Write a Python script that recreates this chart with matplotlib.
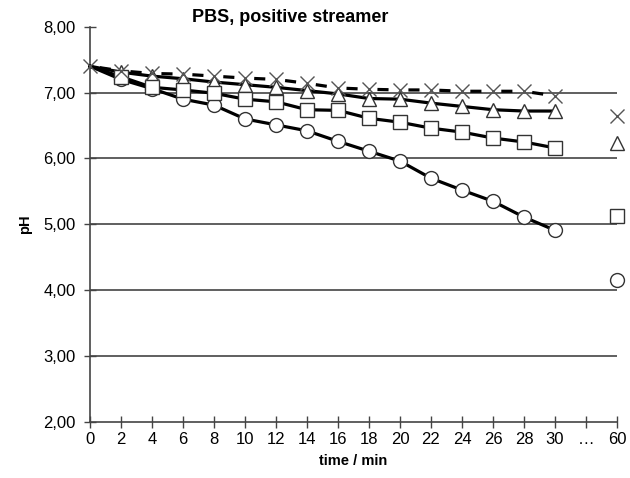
import numpy as np
import matplotlib
matplotlib.use('Agg')
import matplotlib.pyplot as plt

plt.rcParams['font.family'] = ['Liberation Sans', 'DejaVu Sans']
plt.rcParams['lines.scale_dashes'] = False

# categories on the x axis (index 16 is the "..." gap)
x_labels = ['0', '2', '4', '6', '8', '10', '12', '14', '16', '18', '20',
            '22', '24', '26', '28', '30', '\u2026', '60']
times = [0, 2, 4, 6, 8, 10, 12, 14, 16, 18, 20, 22, 24, 26, 28, 30]

ph_cross = [7.40, 7.33, 7.29, 7.28, 7.25, 7.22, 7.20, 7.14, 7.07, 7.05,
            7.04, 7.04, 7.02, 7.02, 7.02, 6.95]
ph_tri = [7.40, 7.31, 7.25, 7.21, 7.16, 7.12, 7.08, 7.03, 6.98, 6.91,
          6.90, 6.84, 6.79, 6.74, 6.72, 6.72]
ph_square = [7.40, 7.24, 7.08, 7.04, 6.99, 6.90, 6.86, 6.74, 6.73, 6.61,
             6.55, 6.46, 6.40, 6.31, 6.25, 6.16]
ph_circle = [7.40, 7.20, 7.06, 6.90, 6.81, 6.60, 6.51, 6.42, 6.26, 6.11,
             5.96, 5.70, 5.52, 5.35, 5.11, 4.91]
# values after 60 min
ph60 = {'cross': 6.64, 'tri': 6.23, 'square': 5.12, 'circle': 4.15}

y_ticks = [2, 3, 4, 5, 6, 7, 8]
y_labels = ['2,00', '3,00', '4,00', '5,00', '6,00', '7,00', '8,00']

fig = plt.figure(figsize=(6.3, 4.78), dpi=100)
ax = fig.add_axes([90/630, 1-422/478, (617-90)/630, (422-26.7)/478])

xi = np.arange(len(times))
x60 = len(x_labels) - 1
skip0 = list(range(1, len(times)))

mk = dict(markerfacecolor='white', markeredgecolor='#333333', markeredgewidth=1.0,
          clip_on=False)

ax.plot(xi, ph_circle, '-', color='black', lw=2.3, marker='o', ms=10, zorder=4,
        markevery=skip0, **mk)
ax.plot(xi, ph_square, '-', color='black', lw=2.3, marker='s', ms=9.5, zorder=5,
        markevery=skip0, **mk)
ax.plot(xi, ph_tri, '-', color='black', lw=2.3, marker='^', ms=10, zorder=3,
        markevery=skip0, **mk)
ax.plot(xi, ph_cross, color='black', lw=2.3, linestyle=(15.15, (8, 14.3)),
        marker='x', ms=10.5, zorder=6, markeredgecolor='#555555',
        markeredgewidth=1.0, clip_on=False)

ax.plot([x60], [ph60['circle']], linestyle='none', marker='o', ms=10, zorder=3, **mk)
ax.plot([x60], [ph60['square']], linestyle='none', marker='s', ms=9.5, zorder=4, **mk)
ax.plot([x60], [ph60['tri']], linestyle='none', marker='^', ms=10.5, zorder=5, **mk)
ax.plot([x60], [ph60['cross']], linestyle='none', marker='x', ms=10.5, zorder=6,
        markeredgecolor='#555555', markeredgewidth=1.0, clip_on=False)

ax.set_xlim(0, x60)
ax.set_ylim(2, 8)
ax.set_xticks(np.arange(len(x_labels)))
ax.set_xticklabels(x_labels)
ax.set_yticks(y_ticks)
ax.set_yticklabels(y_labels)

for v in y_ticks[1:-1]:
    ax.axhline(v, color='#444444', lw=1.2, zorder=1)

for s in ['top', 'right']:
    ax.spines[s].set_visible(False)
for s in ['left', 'bottom']:
    ax.spines[s].set_color('#444444')
    ax.spines[s].set_linewidth(1.2)

ax.tick_params(axis='both', direction='inout', length=8.5, width=1.0,
               color='#444444', labelsize=12)
ax.tick_params(axis='y', pad=6)
ax.tick_params(axis='x', pad=3)

ax.set_xlabel('time / min', fontsize=10.5, fontweight='bold', labelpad=5)
ax.set_ylabel('pH', fontsize=10.5, fontweight='bold', labelpad=8)
fig.text(290/630, 1-17/478, 'PBS, positive streamer', fontsize=13,
         fontweight='bold', ha='center', va='center')

fig.savefig('out.png', dpi=100)
